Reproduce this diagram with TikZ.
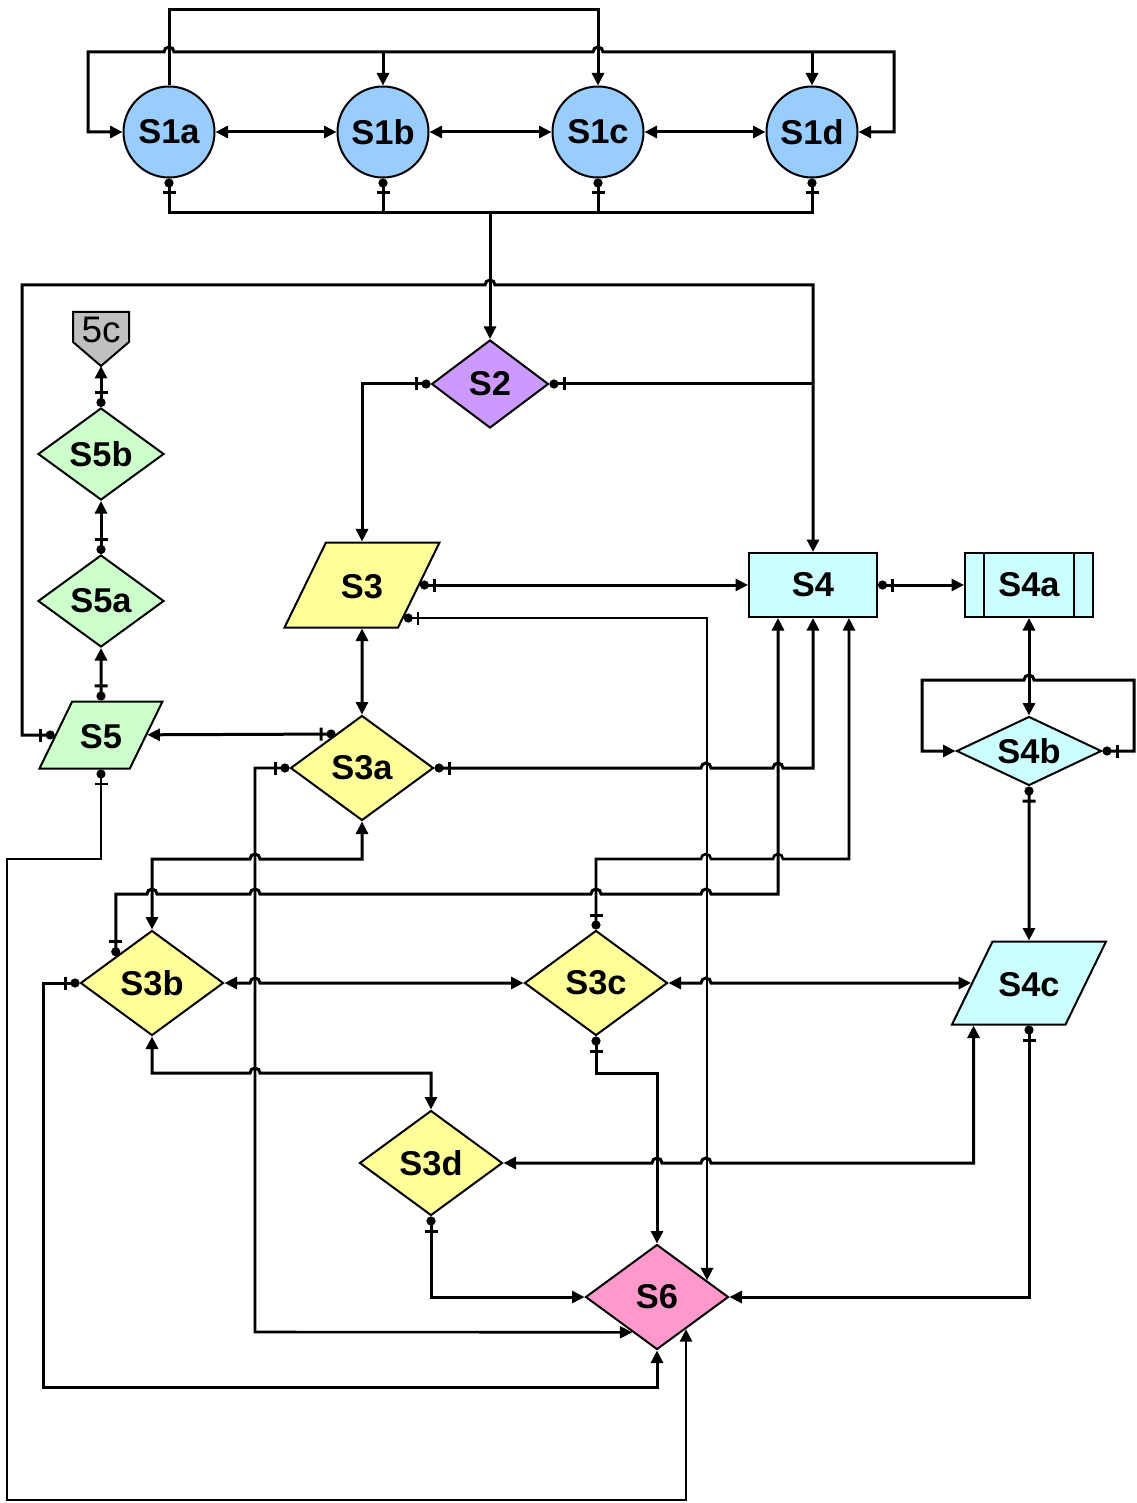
\documentclass[tikz,border=0pt]{standalone}
\usepackage{fontspec}
\setmainfont{Liberation Sans}
\usetikzlibrary{arrows.meta,shapes.geometric,calc}

\definecolor{sblue}{HTML}{99CCFF}
\definecolor{spurple}{HTML}{CC99FF}
\definecolor{sgreen}{HTML}{CCFFCC}
\definecolor{syellow}{HTML}{FFFF99}
\definecolor{scyan}{HTML}{CCFFFF}
\definecolor{spink}{HTML}{FF99CC}
\definecolor{sgray}{HTML}{C0C0C0}

\tikzset{
  tri/.tip={Triangle[length=1.25mm,width=1.2mm]},
  tl/.tip={Bar[width=1.3mm,sep=0.4mm]Circle[length=0.9mm]},
  box/.style={draw,line width=0.2mm,inner sep=0pt,font=\fontsize{9.8}{11}\selectfont\bfseries},
  ball/.style={box,circle,minimum size=9.1mm,fill=sblue},
  dia/.style={box,diamond,minimum width=14.3mm,minimum height=10.5mm},
  para/.style={box,trapezium,trapezium left angle=64,trapezium right angle=116,
    trapezium stretches body=true,text height=2.6mm,text depth=0pt},
  ln/.style={line width=0.3mm},
  lnt/.style={line width=0.26mm}
}
\newcommand{\hop}{arc[start angle=180,end angle=360,radius=5]}
\newcommand{\hopl}{arc[start angle=360,end angle=180,radius=5]}

\begin{document}
\begin{tikzpicture}[x=0.1mm,y=0.1mm,yscale=-1]
\useasboundingbox (0,0) rectangle (1136,1503);

\node[ball] (S1a) at (169,132) {S1a};
\node[ball] (S1b) at (383,132) {S1b};
\node[ball] (S1c) at (598,132) {S1c};
\node[ball] (S1d) at (812,132) {S1d};
\node[box,diamond,fill=spurple,minimum width=11.7mm,minimum height=8.8mm] (S2) at (490,384) {S2};
\filldraw[line width=0.2mm,fill=sgray] (73,312) -- (129,312) -- (129,342) -- (101,366) -- (73,342) -- cycle;
\node[font=\fontsize{10.5}{12}\selectfont,inner sep=0pt] (c5) at (101,330) {5c};
\coordinate (c5t) at (101,366);
\node[box,diamond,fill=sgreen,minimum width=12.6mm,minimum height=9.2mm] (S5b) at (101,454) {S5b};
\node[box,diamond,fill=sgreen,minimum width=12.6mm,minimum height=9.2mm] (S5a) at (101,601) {S5a};
\node[para,fill=sgreen,minimum width=12.3mm,inner ysep=2.05mm] (S5) at (101,735) {S5};
\node[para,fill=syellow,minimum width=15.5mm,inner ysep=2.95mm] (S3) at (362,585) {S3};
\node[dia,fill=syellow] (S3a) at (362,768) {S3a};
\node[dia,fill=syellow] (S3b) at (152,983) {S3b};
\node[dia,fill=syellow] (S3c) at (596,983) {S3c};
\node[dia,fill=syellow] (S3d) at (431,1163) {S3d};
\node[box,rectangle,fill=scyan,minimum width=12.8mm,minimum height=6.4mm] (S4) at (813,585) {S4};
\node[box,rectangle,fill=scyan,minimum width=12.8mm,minimum height=6.4mm] (S4a) at (1029,585) {S4a};
\draw[line width=0.2mm] ([xshift=2mm]S4a.north west) -- ([xshift=2mm]S4a.south west);
\draw[line width=0.2mm] ([xshift=-2mm]S4a.north east) -- ([xshift=-2mm]S4a.south east);
\node[box,diamond,aspect=2,fill=scyan,minimum width=14.5mm,minimum height=6.9mm] (S4b) at (1029,751) {S4b};
\node[para,fill=scyan,minimum width=15.4mm,inner ysep=2.85mm] (S4c) at (1029,983) {S4c};
\node[dia,fill=spink] (S6) at (657,1297) {S6};

% S1 row
\draw[ln,-tri] (S1a) -- (169,10) -| (S1c);
\draw[ln,tri-tri] (S1a) -| (88,52) -- (164,52) \hop -- (593,52) \hop -- (894,52) |- (S1d);
\coordinate (b1) at (383,52);
\coordinate (b2) at (812,52);
\draw[ln,-tri] (b1) -- (S1b);
\draw[ln,-tri] (b2) -- (S1d);
\draw[ln,tri-tri] (S1a) -- (S1b);
\draw[ln,tri-tri] (S1b) -- (S1c);
\draw[ln,tri-tri] (S1c) -- (S1d);
\coordinate (jb) at (490,213);
\foreach \n in {S1a,S1b,S1c,S1d}
  \draw[ln,tl-] (\n) |- (jb);
\draw[ln,-tri] (jb) -- (S2);

% S2, S3, S4
\draw[ln,tl-tri] (S5) -| (22,285) -- (485,285) \hop -- (813,285) -- (S4);
\draw[ln,tl-tri] (S2) -| (S3);
\coordinate (j2) at (813,384);
\draw[ln,tl-] (S2) -- (j2);
\draw[ln,tl-tri] (S3) -- (S4);
\coordinate (s3r) at ($(S3.top right corner)!0.88!(S3.bottom right corner)$);
\coordinate (s6ur) at ($(S6.north)!0.69!(S6.east)$);
\draw[lnt,tl-tri] (s3r) -| (s6ur);
\draw[ln,tl-tri] (S4) -- (S4a);
\draw[ln,tri-tri] (S4a) -- (S4b);
\draw[ln,tl-tri] (S4b.east) -| (1134,680) -- (1034,680) \hopl -- (922,680) |- (S4b.west);
\draw[ln,tl-tri] (S4b) -- (S4c);
\draw[ln,tl-tri] (S4c) |- (S6);
\coordinate (s4cb) at ($(S4c.bottom left corner)!0.2!(S4c.bottom right corner)$);
\draw[ln,tri-tri] (S3d) -- (652,1163) \hop -- (701,1163) \hop -| (s4cb);
\draw[ln,tl-tri] (S3d) |- (S6);
\draw[ln,tl-tri] (S3c) -- (596,1073) -| (S6);
\coordinate (s4l) at ([xshift=-3.5mm]S4.south);
\coordinate (s4r) at ([xshift=3.6mm]S4.south);
\draw[lnt,tl-tri] (S3c) |- (701,859) \hop -- (773,859) \hop -| (s4r);
\draw[ln,tl-tri] (S3a) -- (701,768) \hop -- (773,768) \hop -| (S4);
\coordinate (s3bl) at ($(S3b.west)!0.5!(S3b.north)$);
\draw[ln,tl-tri] (s3bl) |- (147,894) \hop -- (250,894) \hop -- (591,894) \hop -- (701,894) \hop -| (s4l);
\draw[ln,tri-tri] (S3a) |- (260,859) \hopl -| (S3b);
\coordinate (s6ll) at ($(S6.west)!0.66!(S6.south)$);
\draw[lnt,tl-tri] (S3a) -| (255,1332) -- (s6ll);
\draw[ln,tl-tri] (S3b) -| (43,1387) -| (S6);
\coordinate (s6lr) at ($(S6.south)!0.4!(S6.east)$);
\draw[lnt,tl-tri] (S5) |- (7,859) -- (7,1500) -| (s6lr);
\draw[ln,tri-tri] (S3b) -- (250,983) \hop -- (S3c);
\draw[ln,tri-tri] (S3c) -- (701,983) \hop -- (S4c);
\draw[ln,tri-tri] (S3b) |- (250,1073) \hop -| (S3d);
\draw[ln,tri-tri] (S3) -- (S3a);

% S5 column
\coordinate (s3al) at ($(S3a.west)!0.635!(S3a.north)$);
\draw[ln,tl-tri] (s3al) -- (S5);
\draw[ln,tl-tri] (S5) -- (S5a);
\draw[ln,tl-tri] (S5a) -- (S5b);
\draw[ln,tl-tri] (S5b) -- (c5t);
\end{tikzpicture}
\end{document}
